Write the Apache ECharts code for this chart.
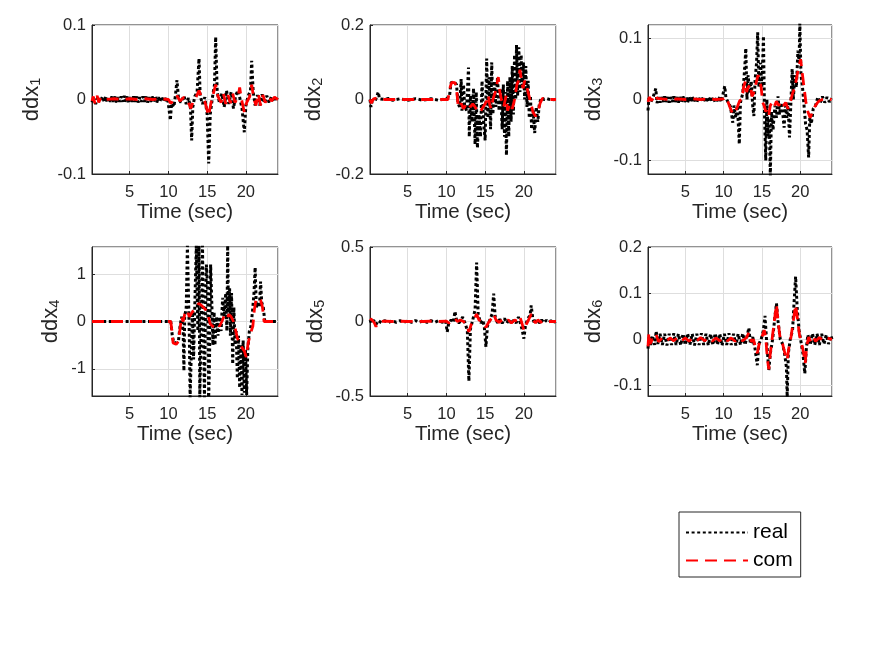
<!DOCTYPE html>
<html>
<head>
<meta charset="utf-8">
<script src="https://cdn.jsdelivr.net/npm/echarts@6/dist/echarts.min.js"></script>
<style>html,body{margin:0;padding:0;background:#fff;}#c{width:875px;height:656px;}</style>
</head>
<body>
<div id="c"></div>
<script>
// ---- data: [time (sec), value] ----
const real1 = [[0.13,-0.004],[0.3,0.003],[0.6,-0.006],[0.9,0.004],[1.2,-0.003],[1.5,0.004],[1.7,-0.003],[1.9,0.004],[2.1,-0.004],[2.3,0.003],[2.5,-0.003],[2.7,0.004],[2.9,-0.003],[3.1,0.004],[3.3,-0.004],[3.5,0.003],[3.7,-0.003],[3.9,0.004],[4.1,-0.003],[4.3,0.005],[4.5,-0.003],[4.7,0.004],[4.9,-0.004],[5.1,0.003],[5.3,-0.003],[5.5,0.004],[5.7,-0.003],[5.9,0.004],[6.1,-0.004],[6.3,0.003],[6.5,-0.003],[6.7,0.004],[6.9,-0.003],[7.1,0.004],[7.3,-0.004],[7.5,0.003],[7.7,-0.003],[7.9,0.004],[8.1,-0.003],[8.3,0.004],[8.5,-0.004],[8.7,0.003],[8.9,-0.003],[9.1,0.004],[9.3,-0.003],[9.5,0.004],[9.7,-0.004],[9.9,0.002],[10.1,0.004],[10.25,-0.028],[10.4,-0.005],[10.7,-0.01],[10.9,0.005],[11.1,0.026],[11.3,0.002],[11.6,-0.004],[12,0.005],[12.3,-0.006],[12.6,0.002],[12.85,-0.012],[13.0,-0.055],[13.15,-0.01],[13.4,0.004],[13.7,0.01],[13.95,0.055],[14.1,0.005],[14.4,-0.006],[14.7,0.003],[15.0,-0.02],[15.2,-0.086],[15.4,-0.02],[15.7,0.004],[15.95,0.02],[16.1,0.084],[16.3,0.01],[16.6,-0.005],[16.9,0.008],[17.2,-0.01],[17.5,0.012],[17.8,-0.006],[18.1,0.01],[18.4,-0.012],[18.7,0.006],[19.0,0.012],[19.2,0.003],[19.5,-0.012],[19.8,-0.044],[20.0,-0.008],[20.3,0.005],[20.6,0.012],[20.75,0.052],[20.95,0.01],[21.2,-0.008],[21.5,0.006],[21.8,-0.008],[22.1,0.007],[22.4,-0.005],[22.7,0.005],[23.0,-0.004],[23.3,0.004],[23.6,-0.003],[23.9,0.003],[24.15,0]];
const com1 = [[0.13,-0.002],[0.3,0.004],[0.5,-0.005],[0.8,0.005],[1.0,-0.004],[1.3,0.003],[2,0],[3,0.001],[4,0],[5,0.001],[6,0],[7,0.001],[8,0],[9,0.001],[10,0],[10.3,-0.005],[10.7,-0.002],[11.1,0.005],[11.5,-0.002],[12,0.003],[12.5,-0.002],[12.9,-0.012],[13.2,-0.002],[13.6,0.004],[13.95,0.012],[14.3,0.002],[14.7,-0.003],[15.2,-0.022],[15.5,-0.004],[15.8,0.008],[16.1,0.02],[16.4,0.004],[16.8,-0.004],[17.1,0.008],[17.4,-0.006],[17.7,0.006],[18.0,-0.005],[18.3,0.008],[18.6,-0.004],[19.0,0.004],[19.2,0.016],[19.4,0.002],[19.8,-0.017],[20.1,-0.004],[20.5,0.004],[20.75,0.02],[21.0,0.003],[21.3,-0.008],[21.6,0.008],[21.9,-0.008],[22.2,0.006],[22.5,-0.004],[22.9,0.004],[23.3,-0.002],[23.7,0.003],[24.15,0]];
const real2 = [[0.13,0],[0.25,-0.02],[0.4,-0.005],[0.8,-0.004],[1.2,0.02],[1.35,0.002],[2,0],[2.5,0.003],[3,-0.002],[4,0.002],[5,-0.002],[6,0.002],[7,-0.002],[8,0.002],[9,-0.002],[10,0.002],[10.4,0.01],[10.6,0.045],[11.0,0.048],[11.3,0.04],[11.5,-0.01],[11.7,-0.02],[11.9,0.055],[12.0,-0.03],[12.2,0.04],[12.35,-0.015],[12.6,-0.03],[12.85,0.086],[12.95,-0.1],[13.1,0.01],[13.3,-0.06],[13.5,0.03],[13.7,-0.12],[13.85,0.02],[14.0,-0.13],[14.2,-0.04],[14.4,-0.1],[14.6,0.05],[14.8,-0.06],[15.0,-0.11],[15.2,0.11],[15.35,-0.05],[15.5,0.06],[15.7,-0.08],[15.85,0.1],[16.0,-0.04],[16.2,0.05],[16.4,-0.02],[16.6,0.06],[16.8,-0.03],[17.0,0.03],[17.2,-0.08],[17.35,0.04],[17.5,-0.1],[17.6,0.02],[17.75,-0.15],[17.9,0.05],[18.05,-0.1],[18.2,0.06],[18.35,-0.06],[18.5,0.09],[18.65,-0.04],[18.8,0.12],[18.95,0.0],[19.05,0.146],[19.2,0.01],[19.35,0.14],[19.5,0.02],[19.65,0.12],[19.8,0.03],[19.95,0.1],[20.1,0.0],[20.25,0.09],[20.4,-0.02],[20.55,0.05],[20.7,-0.05],[20.85,0.01],[21.0,-0.08],[21.2,-0.03],[21.4,-0.09],[21.6,-0.02],[21.8,-0.06],[22.0,-0.01],[22.3,0.005],[22.6,0],[23,0.002],[23.5,-0.001],[24.15,0]];
const com2 = [[0.13,0],[0.3,-0.01],[0.6,0.002],[1.2,0.005],[2,0],[10.2,0],[10.5,0.035],[10.7,0.046],[11.1,0.045],[11.3,0.03],[11.5,-0.015],[11.7,-0.022],[11.9,-0.01],[12.2,-0.025],[12.5,-0.015],[12.8,-0.008],[13.1,-0.02],[13.4,-0.012],[13.7,-0.02],[14.0,-0.03],[14.3,-0.035],[14.6,-0.025],[14.9,-0.015],[15.2,-0.005],[15.4,0.012],[15.6,-0.015],[15.8,-0.025],[16.0,0.0],[16.3,0.02],[16.7,0.06],[16.9,0.02],[17.1,0.0],[17.4,-0.02],[17.7,0.01],[17.9,-0.03],[18.2,-0.01],[18.5,-0.025],[18.8,0.0],[19.1,0.04],[19.3,0.05],[19.5,0.08],[19.7,0.05],[19.9,0.03],[20.1,0.05],[20.3,0.04],[20.6,0.015],[20.9,-0.01],[21.2,-0.035],[21.5,-0.045],[21.8,-0.035],[22.1,-0.01],[22.4,0.003],[22.8,0],[24.15,0]];
const real3 = [[0.13,-0.018],[0.25,0.002],[0.5,-0.004],[0.8,0.004],[1.15,0.018],[1.3,-0.006],[1.5,0.004],[1.7,-0.005],[1.9,0.004],[2.1,-0.004],[2.3,0.005],[2.5,-0.004],[2.7,0.004],[2.9,-0.005],[3.1,0.004],[3.3,-0.004],[3.5,0.005],[3.7,-0.004],[3.9,0.004],[4.1,-0.005],[4.3,0.004],[4.5,-0.004],[4.7,0.005],[4.9,-0.004],[5.1,0.004],[5.3,-0.005],[5.5,0.004],[5.7,-0.004],[5.9,0.005],[6.1,-0.004],[6.3,0.004],[6.5,-0.005],[6.7,0.004],[6.9,-0.004],[7.1,0.005],[7.3,-0.004],[7.5,0.004],[7.7,-0.005],[7.9,0.004],[8.1,-0.004],[8.3,0.005],[8.5,-0.004],[8.7,0.004],[8.9,-0.005],[9.1,0.004],[9.3,-0.004],[9.5,0.005],[9.7,-0.004],[9.9,-0.002],[10.15,0.022],[10.3,0.003],[10.6,-0.005],[10.9,-0.012],[11.2,-0.038],[11.35,-0.01],[11.6,-0.03],[11.8,-0.01],[12.05,-0.073],[12.2,-0.005],[12.5,0.01],[12.75,0.05],[12.9,0.084],[13.05,0.0],[13.2,0.04],[13.4,0.01],[13.6,0.03],[13.8,-0.01],[13.95,-0.027],[14.1,0.03],[14.3,0.06],[14.45,0.11],[14.6,0.02],[14.8,0.06],[15.0,0.02],[15.2,0.104],[15.35,-0.03],[15.5,-0.1],[15.65,0.0],[15.8,-0.06],[15.95,-0.03],[16.1,-0.125],[16.25,-0.02],[16.45,-0.05],[16.7,-0.01],[16.9,-0.03],[17.1,0.005],[17.3,-0.025],[17.5,-0.005],[17.7,-0.02],[17.9,-0.046],[18.05,-0.01],[18.25,-0.03],[18.4,-0.005],[18.6,-0.062],[18.8,0.0],[18.95,0.05],[19.1,0.0],[19.3,0.04],[19.5,0.02],[19.7,0.08],[19.85,0.06],[19.95,0.125],[20.1,0.04],[20.3,0.02],[20.5,-0.01],[20.7,-0.04],[20.9,-0.05],[21.1,-0.095],[21.25,-0.03],[21.45,-0.04],[21.7,-0.015],[22.0,-0.01],[22.3,0.004],[22.6,-0.006],[22.9,0.005],[23.2,-0.005],[23.5,0.004],[23.8,-0.004],[24.1,0.002]];
const com3 = [[0.13,-0.004],[0.3,0.004],[0.6,-0.002],[1.0,0.008],[1.3,0.002],[2,0.001],[3,0],[4,0.001],[5,0],[6,0.001],[7,0],[8,0.001],[9,0],[10,0.001],[10.3,0.004],[10.6,-0.005],[10.9,-0.015],[11.2,-0.024],[11.5,-0.02],[11.8,-0.012],[12.1,-0.002],[12.4,0.0],[12.6,0.02],[12.85,0.03],[13.0,0.012],[13.2,0.02],[13.5,0.025],[13.7,0.005],[13.9,0.01],[14.1,0.02],[14.3,0.03],[14.5,0.04],[14.7,0.032],[14.9,0.02],[15.1,-0.005],[15.3,-0.01],[15.5,-0.02],[15.7,-0.015],[15.9,-0.025],[16.1,-0.01],[16.3,-0.005],[16.6,-0.012],[16.9,-0.003],[17.2,-0.01],[17.5,-0.003],[17.8,-0.01],[18.1,-0.005],[18.4,-0.015],[18.7,-0.005],[19.0,0.01],[19.3,0.02],[19.6,0.04],[19.85,0.055],[20.05,0.066],[20.25,0.045],[20.5,0.02],[20.75,-0.005],[21.0,-0.02],[21.3,-0.03],[21.6,-0.02],[21.9,-0.012],[22.2,-0.006],[22.5,-0.002],[22.9,0.0],[23.5,0.001],[24.1,0]];
const real4 = [[0.13,0],[10.3,0],[10.5,-0.3],[10.7,-0.45],[11.0,-0.45],[11.3,-0.4],[11.5,-0.1],[11.7,0.1],[11.9,-0.2],[12.0,-1.04],[12.1,0.1],[12.3,0.3],[12.45,1.6],[12.55,1.6],[12.7,-0.3],[12.8,-1.6],[12.95,-1.6],[13.1,0.2],[13.25,-0.8],[13.4,0.3],[13.6,1.6],[13.7,1.6],[13.8,-0.2],[13.95,1.6],[14.05,-1.6],[14.15,-1.6],[14.3,0.5],[14.4,1.6],[14.55,-0.5],[14.65,-1.6],[14.8,0.4],[14.9,1.2],[15.05,0.8],[15.2,-1.6],[15.3,-0.9],[15.45,1.2],[15.6,0.4],[15.75,-0.5],[15.9,0.2],[16.0,-0.5],[16.2,0.1],[16.4,-0.3],[16.6,0.1],[16.8,-0.2],[17.0,0.5],[17.2,0.1],[17.4,0.6],[17.55,-0.2],[17.65,1.6],[17.75,0.2],[17.9,0.7],[18.0,-0.3],[18.15,0.6],[18.3,-0.9],[18.45,0.3],[18.6,-0.5],[18.75,-0.2],[18.9,-1.2],[19.05,-0.3],[19.2,-1.4],[19.35,-0.5],[19.5,-1.55],[19.65,-0.4],[19.8,-1.5],[19.95,-0.6],[20.1,-1.55],[20.25,-0.6],[20.45,-0.2],[20.65,-0.1],[20.85,0.2],[21.05,0.6],[21.2,1.14],[21.35,0.3],[21.55,0.4],[21.75,0.3],[21.9,0.84],[22.05,0.4],[22.25,0.3],[22.45,0],[24.15,0]];
const com4 = [[0.13,0],[10.3,0],[10.45,-0.2],[10.6,-0.45],[11.0,-0.48],[11.3,-0.42],[11.5,-0.15],[11.7,0.1],[11.9,0.0],[12.1,0.15],[12.4,0.24],[12.7,0.1],[13.0,0.18],[13.3,0.25],[13.6,0.3],[13.9,0.38],[14.2,0.35],[14.5,0.3],[14.8,0.25],[15.1,0.15],[15.4,-0.05],[15.7,-0.1],[16.0,-0.12],[16.3,-0.05],[16.6,-0.1],[16.9,0.0],[17.2,0.12],[17.5,0.05],[17.8,0.15],[18.1,0.1],[18.4,0.0],[18.7,-0.2],[18.9,-0.35],[19.2,-0.45],[19.5,-0.55],[19.8,-0.62],[20.05,-0.75],[20.3,-0.45],[20.6,-0.25],[20.9,-0.1],[21.1,0.25],[21.3,0.45],[21.6,0.5],[21.9,0.45],[22.15,0.3],[22.35,0.0],[22.6,0],[24.15,0]];
const real5 = [[0.13,0.01],[0.3,-0.01],[0.6,0.008],[0.9,-0.02],[1.2,0.006],[1.6,-0.008],[2,0.005],[2.5,-0.006],[3,0.005],[3.5,-0.005],[4,0.005],[4.5,-0.006],[5,0.005],[5.5,-0.005],[6,0.006],[6.5,-0.005],[7,0.005],[7.5,-0.006],[8,0.005],[8.5,-0.005],[9,0.006],[9.5,-0.005],[9.9,0.004],[10.1,-0.07],[10.3,-0.01],[10.6,0.01],[10.9,-0.005],[11.1,0.068],[11.3,0.01],[11.6,-0.01],[11.9,0.01],[12.1,0.03],[12.4,-0.01],[12.7,-0.06],[12.9,-0.4],[13.1,-0.05],[13.4,0.01],[13.7,0.08],[13.9,0.395],[14.1,0.05],[14.4,-0.01],[14.7,0.01],[14.9,-0.04],[15.1,-0.17],[15.3,-0.03],[15.6,0.01],[15.9,0.05],[16.1,0.187],[16.3,0.03],[16.6,-0.01],[16.9,0.015],[17.2,-0.012],[17.5,0.02],[17.8,-0.01],[18.1,0.015],[18.4,-0.015],[18.7,0.01],[19.0,-0.01],[19.3,0.03],[19.6,-0.02],[19.8,-0.06],[20.0,-0.115],[20.2,-0.03],[20.5,0.02],[20.8,0.04],[20.95,0.108],[21.15,0.02],[21.4,-0.015],[21.7,0.015],[22.0,-0.01],[22.3,0.01],[22.6,-0.008],[22.9,0.008],[23.2,-0.006],[23.5,0.006],[23.8,-0.005],[24.15,0]];
const com5 = [[0.13,0.02],[0.4,0.01],[0.7,-0.01],[0.9,-0.035],[1.1,-0.01],[1.5,0.0],[2,0.002],[3,0],[4,0.002],[5,0],[6,0.002],[7,0],[8,0.002],[9,0],[10,0.002],[10.3,-0.01],[10.7,0.0],[11.1,0.02],[11.4,0.0],[11.8,0.01],[12.2,0.0],[12.6,-0.02],[12.9,-0.07],[13.2,-0.02],[13.6,0.02],[13.9,0.05],[14.2,0.01],[14.6,0.0],[15.1,-0.04],[15.4,-0.01],[15.8,0.02],[16.1,0.05],[16.4,0.01],[16.8,-0.005],[17.2,0.01],[17.6,-0.005],[18.0,0.01],[18.4,-0.01],[18.8,0.01],[19.2,0.0],[19.5,0.03],[19.8,-0.02],[20.0,-0.06],[20.3,-0.02],[20.6,0.01],[20.95,0.05],[21.2,0.01],[21.5,-0.01],[21.8,0.01],[22.2,-0.005],[22.6,0.005],[23.0,0.0],[24.15,0]];
const real6 = [[0.13,-0.02],[0.25,0.005],[0.45,-0.015],[0.7,0.008],[1.0,-0.012],[1.2,0.018],[1.4,-0.01],[1.7,0.012],[2.0,-0.012],[2.3,0.012],[2.6,-0.013],[2.9,0.012],[3.2,-0.012],[3.5,0.013],[3.8,-0.012],[4.1,0.012],[4.4,-0.013],[4.7,0.012],[5.0,-0.012],[5.3,0.013],[5.6,-0.012],[5.9,0.012],[6.2,-0.013],[6.5,0.012],[6.8,-0.012],[7.1,0.013],[7.4,-0.012],[7.7,0.012],[8.0,-0.013],[8.3,0.012],[8.6,-0.012],[8.9,0.013],[9.2,-0.012],[9.5,0.012],[9.8,-0.013],[10.1,0.012],[10.4,-0.012],[10.7,0.013],[11.0,-0.012],[11.3,0.012],[11.6,-0.013],[11.9,0.012],[12.2,-0.012],[12.5,0.013],[12.8,-0.012],[13.1,0.01],[13.3,0.025],[13.5,-0.01],[13.8,0.005],[14.1,-0.02],[14.4,-0.056],[14.6,-0.01],[14.9,0.0],[15.2,0.02],[15.4,0.051],[15.6,0.0],[15.9,-0.067],[16.1,-0.03],[16.4,0.0],[16.7,0.05],[16.9,0.078],[17.1,0.04],[17.4,0.0],[17.7,-0.01],[17.95,-0.03],[18.2,-0.06],[18.3,-0.125],[18.45,-0.03],[18.7,0.0],[19.0,0.02],[19.2,0.08],[19.4,0.136],[19.6,0.07],[19.85,0.02],[20.1,-0.005],[20.35,-0.03],[20.6,-0.074],[20.8,-0.02],[21.0,0.01],[21.3,-0.012],[21.6,0.013],[21.9,-0.012],[22.2,0.012],[22.5,-0.012],[22.8,0.012],[23.1,-0.01],[23.4,0.01],[23.7,-0.01],[24.0,0.008],[24.15,0]];
const com6 = [[0.13,-0.015],[0.25,0.015],[0.4,-0.01],[0.7,0.0],[1.0,0.0],[1.2,0.01],[1.5,-0.005],[2,0.003],[2.5,-0.004],[3,0.003],[3.5,-0.003],[4,0.004],[4.5,-0.003],[5,0.003],[5.5,-0.004],[6,0.003],[6.5,-0.003],[7,0.004],[7.5,-0.003],[8,0.003],[8.5,-0.004],[9,0.003],[9.5,-0.003],[10,0.004],[10.5,-0.003],[11,0.003],[11.5,-0.004],[12,0.003],[12.5,-0.003],[13,0.004],[13.3,0.015],[13.6,-0.005],[13.9,0.0],[14.2,-0.02],[14.4,-0.03],[14.7,-0.005],[15.0,0.005],[15.3,0.02],[15.5,0.005],[15.7,-0.04],[15.9,-0.065],[16.1,-0.03],[16.4,0.01],[16.7,0.05],[16.9,0.076],[17.1,0.04],[17.4,0.0],[17.7,-0.01],[18.0,-0.03],[18.3,-0.045],[18.5,-0.02],[18.8,0.005],[19.1,0.04],[19.4,0.075],[19.6,0.05],[19.9,0.01],[20.2,-0.01],[20.45,-0.03],[20.65,-0.052],[20.85,-0.015],[21.1,0.005],[21.4,-0.005],[21.7,0.005],[22,-0.004],[22.5,0.004],[23,-0.003],[23.5,0.003],[24.15,0]];

const realSeries = [real1, real2, real3, real4, real5, real6];
const comSeries = [com1, com2, com3, com4, com5, com6];
const yNames = ['1', '2', '3', '4', '5', '6'];
const xRange = [0.13, 24.15];
// y ranges: [min, max, interval or null, splitNumber, hideMin, hideMax]
const yRanges = [
  [-0.1, 0.1, 0.1, null, false, false],
  [-0.2, 0.2, 0.2, null, false, false],
  [-0.122, 0.122, null, 3, true, true],
  [-1.57, 1.57, null, 3, true, true],
  [-0.5, 0.5, 0.5, null, false, false],
  [-0.1226, 0.2, null, 3, true, false]
];
const yNameGaps = [49, 45, 43, 30, 43, 43];

const gridPos = [
  {left: 92, top: 25, width: 186, height: 149},
  {left: 370, top: 25, width: 186, height: 149},
  {left: 648, top: 25, width: 184, height: 149},
  {left: 92, top: 247, width: 186, height: 149},
  {left: 370, top: 247, width: 186, height: 149},
  {left: 648, top: 247, width: 184, height: 149}
];

const FONT = '"Liberation Sans", Arial, Helvetica, sans-serif';
const TXT = '#262626';
const GRIDC = '#dedede';

const grids = [], xAxes = [], yAxes = [], series = [];
gridPos.forEach((g, i) => {
  grids.push(Object.assign({show: true, borderColor: TXT, borderWidth: 1, backgroundColor: '#fff', containLabel: false}, g));
  xAxes.push({
    type: 'value', gridIndex: i, min: xRange[0], max: xRange[1], splitNumber: 5,
    name: 'Time (sec)', nameLocation: 'middle', nameGap: 27,
    nameTextStyle: {fontFamily: FONT, fontSize: 20.5, color: TXT},
    axisLine: {show: true, onZero: false, lineStyle: {color: TXT, width: 1}},
    axisTick: {show: true, inside: true, length: 3, lineStyle: {color: TXT}},
    axisLabel: {fontFamily: FONT, fontSize: 16.5, color: TXT, margin: 10, showMinLabel: false, showMaxLabel: false},
    splitLine: {show: true, lineStyle: {color: GRIDC, width: 1}}
  });
  const r = yRanges[i];
  const ya = {
    type: 'value', gridIndex: i, min: r[0], max: r[1],
    name: 'ddx{s|' + yNames[i] + '}', nameLocation: 'middle', nameGap: yNameGaps[i],
    nameTextStyle: {fontFamily: FONT, fontSize: 22, color: TXT, lineHeight: 22,
      rich: {s: {fontFamily: FONT, fontSize: 14.5, color: TXT, lineHeight: 14, padding: [15, 0, 0, 0], verticalAlign: 'bottom'}}},
    axisLine: {show: true, onZero: false, lineStyle: {color: TXT, width: 1}},
    axisTick: {show: true, inside: true, length: 3, lineStyle: {color: TXT}},
    axisLabel: {fontFamily: FONT, fontSize: 16.5, color: TXT, margin: 6, showMinLabel: !r[4], showMaxLabel: !r[5]},
    splitLine: {show: true, lineStyle: {color: GRIDC, width: 1}}
  };
  if (r[2] !== null) ya.interval = r[2]; else ya.splitNumber = r[3];
  yAxes.push(ya);
  series.push({
    name: 'real', type: 'line', xAxisIndex: i, yAxisIndex: i, data: realSeries[i],
    showSymbol: false, symbol: 'none', animation: false, clip: true,
    lineStyle: {color: '#000', width: 3, type: [3, 2.6]}, itemStyle: {color: '#000'}, z: 2
  });
  series.push({
    name: 'com', type: 'line', xAxisIndex: i, yAxisIndex: i, data: comSeries[i],
    showSymbol: false, symbol: 'none', animation: false, clip: true,
    lineStyle: {color: '#ff0000', width: 2.8, type: [12, 7]}, itemStyle: {color: '#ff0000'}, z: 3
  });
});

const chart = echarts.init(document.getElementById('c'), null, {renderer: 'canvas'});
chart.setOption({
  backgroundColor: '#fff',
  animation: false,
  grid: grids, xAxis: xAxes, yAxis: yAxes, series: series,
  legend: {
    data: ['real', 'com'], orient: 'vertical', left: 679, top: 512,
    itemWidth: 62, itemHeight: 14, itemGap: 7,
    padding: [10, 8, 6, 6],
    itemStyle: {opacity: 0},
    borderColor: TXT, borderWidth: 1, backgroundColor: '#fff',
    textStyle: {fontFamily: FONT, fontSize: 21, color: '#000'},
    selectedMode: false
  }
});
</script>
</body>
</html>
